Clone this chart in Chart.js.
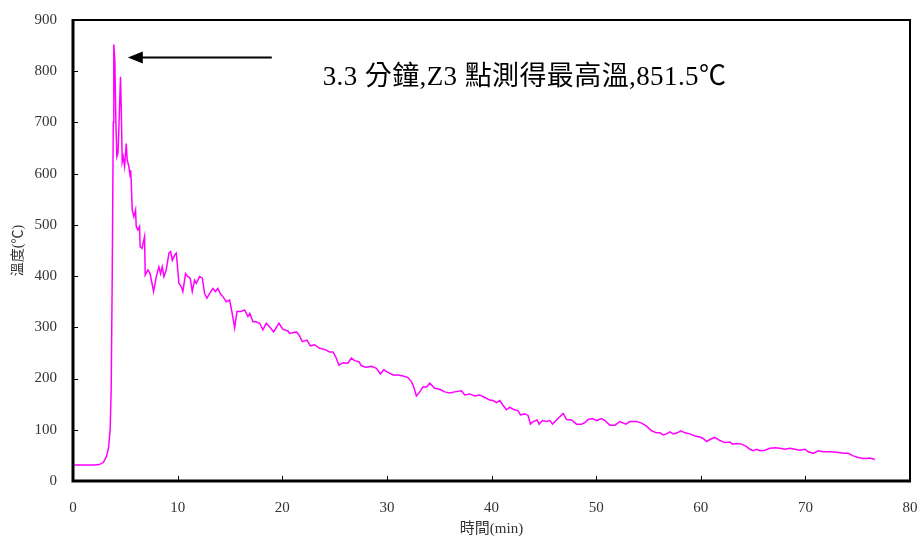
<!DOCTYPE html>
<html>
<head>
<meta charset="utf-8">
<script src="https://cdn.jsdelivr.net/npm/chart.js@4/dist/chart.umd.min.js"></script>
<style>
	html, body { margin: 0; padding: 0; background: #fff; }
	#wrap { width: 918px; height: 537px; }
</style>
</head>
<body>
<div id="wrap"><canvas id="chart" width="918" height="537"></canvas></div>
<script>
// time (min) and Z3 temperature (°C)
const timeMin = [0, 1, 2, 2.5, 2.9, 3.2, 3.4, 3.55, 3.65, 3.75, 3.85, 3.9, 4.0, 4.1, 4.19, 4.3, 4.4, 4.54, 4.62, 4.7,
	4.8, 4.93, 5.09, 5.18, 5.34, 5.47, 5.5, 5.56, 5.66, 5.82, 5.98, 6.04, 6.2, 6.36, 6.42, 6.6, 6.84, 6.9, 7.16, 7.37,
	7.7, 7.96, 8.21, 8.37, 8.53, 8.69, 8.91, 9.17, 9.33, 9.49, 9.71, 9.87, 9.96, 10.12, 10.35, 10.5, 10.76, 10.98, 11.2, 11.4,
	11.62, 11.78, 12.1, 12.36, 12.58, 12.8, 13.05, 13.37, 13.63, 13.85, 14.07, 14.33, 14.65, 14.97, 15.22, 15.45, 15.67, 16.08, 16.4, 16.72,
	16.9, 17.2, 17.5, 17.84, 18.15, 18.47, 18.79, 19.18, 19.68, 20.07, 20.55, 20.7, 21.34, 21.6, 21.92, 22.36, 22.68, 23.1, 23.57, 24.05,
	24.53, 24.85, 25.1, 25.42, 25.8, 26.28, 26.6, 26.92, 27.33, 27.56, 28.04, 28.52, 29, 29.38, 29.7, 30.1, 30.59, 31.06, 31.54, 32.02,
	32.34, 32.56, 32.82, 33.14, 33.45, 33.78, 34.1, 34.57, 35.05, 35.53, 36.01, 36.49, 37.13, 37.44, 37.92, 38.4, 38.88, 39.36, 39.83, 40.15,
	40.47, 40.79, 41.1, 41.43, 41.75, 42.06, 42.54, 42.77, 43.18, 43.5, 43.72, 43.98, 44.36, 44.55, 44.87, 45.26, 45.58, 45.83, 46.21, 46.85,
	47.17, 47.65, 48.12, 48.6, 48.92, 49.24, 49.66, 50.04, 50.52, 50.84, 51.31, 51.79, 52.27, 52.84, 53.22, 53.86, 54.34, 54.82, 55.3, 55.78,
	56.1, 56.41, 56.73, 57.05, 57.37, 57.75, 58.1, 58.48, 58.96, 59.44, 59.92, 60.23, 60.56, 60.87, 61.35, 61.83, 62.31, 62.79, 63.04, 63.43,
	63.9, 64.38, 64.7, 65.02, 65.34, 65.66, 66.13, 66.61, 67.09, 67.57, 68.05, 68.53, 69, 69.48, 69.96, 70.28, 70.75, 71.23, 71.71, 72.35,
	72.99, 73.62, 74.1, 74.58, 75.06, 75.53, 75.85, 76.17, 76.65];
const tempC = [31, 31, 31, 32, 36, 48, 65, 100, 180, 400, 700, 852, 820, 700, 633, 640, 700, 789, 720, 623,
	633, 614, 659, 627, 614, 594, 607, 588, 529, 516, 529, 497, 490, 497, 457, 454, 477, 402, 412, 405,
	370, 399, 418, 405, 418, 399, 412, 445, 448, 431, 441, 445, 425, 386, 379, 370, 405, 399, 396, 370,
	392, 386, 399, 396, 366, 357, 366, 376, 370, 376, 366, 360, 350, 353, 327, 299, 331, 331, 334, 321,
	327, 311, 311, 308, 295, 308, 301, 291, 308, 296, 293, 288, 291, 285, 272, 275, 264, 266, 259, 257,
	252, 252, 243, 226, 231, 230, 240, 235, 233, 225, 222, 224, 220, 209, 217, 212, 207, 207, 205, 202,
	194, 184, 166, 174, 184, 183, 191, 181, 179, 174, 172, 174, 176, 168, 170, 166, 168, 163, 158, 157,
	153, 157, 148, 139, 144, 140, 137, 129, 131, 128, 111, 116, 119, 111, 118, 116, 118, 111, 119, 132,
	120, 119, 111, 111, 114, 120, 122, 118, 122, 118, 109, 109, 116, 111, 116, 116, 113, 107, 98, 94,
	94, 90, 92, 96, 92, 94, 98, 94, 92, 88, 86, 83, 77, 81, 85, 79, 75, 76, 72, 73,
	72, 67, 62, 59, 62, 59, 60, 64, 65, 64, 62, 64, 62, 60, 62, 57, 54, 59, 57, 57,
	56, 54, 54, 49, 46, 44, 44, 45, 42];

const xTicks = [0, 10, 20, 30, 40, 50, 60, 70, 80];
const yTicks = [0, 100, 200, 300, 400, 500, 600, 700, 800, 900];

const noteText = '3.3 分鐘,Z3 點測得最高溫,851.5℃';
// arrow tail / head and text anchor, in data units
const arrowFrom = [19.0, 827];
const arrowTo = [5.24, 827];
const noteAt = [23.86, 787];

const serif = '"Liberation Serif", "Times New Roman", "Noto Sans CJK TC", serif';

// frame, inward ticks and the arrow note
const framePlugin = {
	id: 'frame',
	afterDraw(chart) {
		const ctx = chart.ctx;
		const a = chart.chartArea;
		const xs = chart.scales.x, ys = chart.scales.y;
		ctx.save();
		ctx.strokeStyle = '#000';
		// ticks
		ctx.lineWidth = 1;
		ctx.beginPath();
		xTicks.forEach(v => {
			const p = Math.round(xs.getPixelForValue(v)) + 0.5;
			ctx.moveTo(p, a.bottom);
			ctx.lineTo(p, a.bottom - 5);
		});
		yTicks.forEach(v => {
			const p = Math.round(ys.getPixelForValue(v)) + 0.5;
			ctx.moveTo(a.left, p);
			ctx.lineTo(a.left + 5, p);
		});
		ctx.stroke();
		// top / right thinner, left / bottom heavier
		ctx.lineWidth = 2;
		ctx.beginPath();
		ctx.moveTo(a.left, a.top);
		ctx.lineTo(a.right, a.top);
		ctx.lineTo(a.right, a.bottom);
		ctx.stroke();
		ctx.lineWidth = 3;
		ctx.beginPath();
		ctx.moveTo(a.left, a.top - 1);
		ctx.lineTo(a.left, a.bottom);
		ctx.lineTo(a.right + 1, a.bottom);
		ctx.stroke();

		// arrow
		const x1 = xs.getPixelForValue(arrowFrom[0]), y1 = ys.getPixelForValue(arrowFrom[1]);
		const x2 = xs.getPixelForValue(arrowTo[0]), y2 = ys.getPixelForValue(arrowTo[1]);
		ctx.lineWidth = 2;
		ctx.beginPath();
		ctx.moveTo(x1, y1);
		ctx.lineTo(x2 + 10, y2);
		ctx.stroke();
		ctx.fillStyle = '#000';
		ctx.beginPath();
		ctx.moveTo(x2, y2);
		ctx.lineTo(x2 + 15, y2 - 6);
		ctx.lineTo(x2 + 15, y2 + 6);
		ctx.closePath();
		ctx.fill();

		// note text
		ctx.font = '27px ' + serif;
		ctx.letterSpacing = '0.4px';
		ctx.textAlign = 'left';
		ctx.textBaseline = 'middle';
		ctx.fillText(noteText, xs.getPixelForValue(noteAt[0]), ys.getPixelForValue(noteAt[1]));
		ctx.restore();
	}
};

const points = timeMin.map((t, i) => ({ x: t, y: tempC[i] }));

const chart = new Chart(document.getElementById('chart').getContext('2d'), {
	type: 'line',
	data: {
		datasets: [{
			label: 'Z3',
			data: points,
			borderColor: '#FF00FF',
			borderWidth: 1.5,
			pointRadius: 0,
			tension: 0,
			fill: false
		}]
	},
	options: {
		responsive: false,
		animation: false,
		layout: { padding: { top: 20, right: 8, left: 0, bottom: 0 } },
		plugins: {
			legend: { display: false },
			tooltip: { enabled: false }
		},
		scales: {
			x: {
				type: 'linear',
				min: 0,
				max: 80,
				afterBuildTicks: s => { s.ticks = xTicks.map(v => ({ value: v })); },
				afterFit: s => { s.height = 56; s.paddingLeft = 0; s.paddingRight = 0; },
				grid: { display: false, drawTicks: false },
				border: { display: false },
				ticks: { padding: 18, color: '#333', font: { family: serif, size: 15 } },
				title: {
					display: true,
					text: '時間(min)',
					color: '#333',
					font: { family: serif, size: 15, lineHeight: 1.0 },
					padding: 0
				}
			},
			y: {
				min: 0,
				max: 900,
				afterBuildTicks: s => { s.ticks = yTicks.map(v => ({ value: v })); },
				afterFit: s => { s.width = 73; s.paddingTop = 0; s.paddingBottom = 0; },
				grid: { display: false, drawTicks: false },
				border: { display: false },
				ticks: { padding: 16, color: '#333', font: { family: serif, size: 15 } },
				title: {
					display: true,
					text: '溫度(℃)',
					color: '#333',
					font: { family: serif, size: 14 },
					padding: { top: 10, bottom: 0 }
				}
			}
		}
	},
	plugins: [framePlugin]
});
</script>
</body>
</html>
